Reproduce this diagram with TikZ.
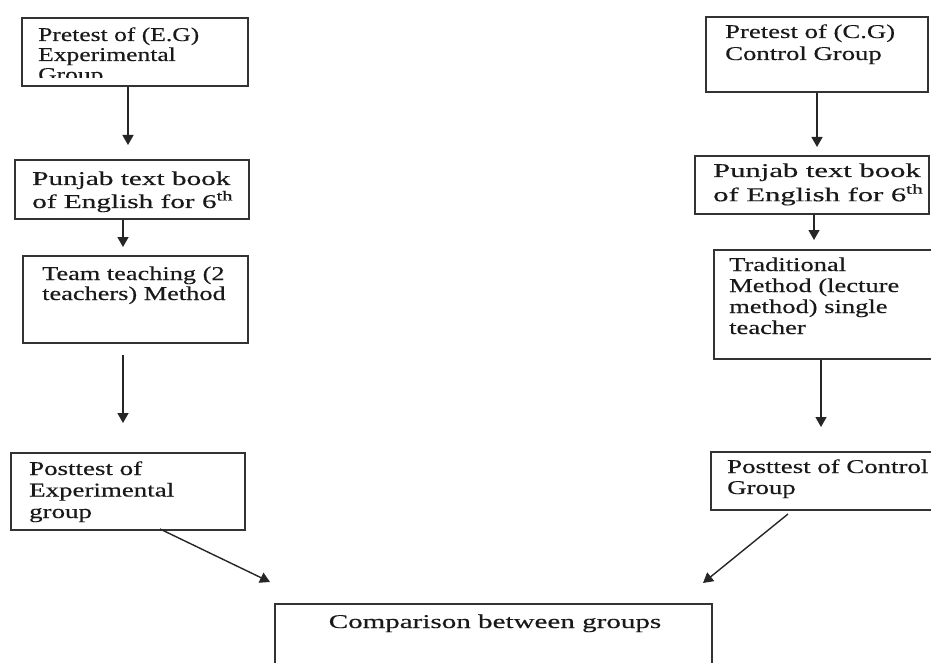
\documentclass[tikz,border=0pt]{standalone}
\usepackage{fontspec}
\usepackage{graphicx}
\usetikzlibrary{arrows.meta,calc}
\newfontfamily\tnr[FakeBold=0.3]{Liberation Serif}
\newcommand\tb[3]{\fontsize{19.5}{#2}\selectfont\scalebox{#1}[1]{\begin{tabular}[t]{@{}l@{}}#3\end{tabular}}}
\begin{document}
\begin{tikzpicture}[x=1pt,y=-1pt,
  box/.style={draw=black!80, line width=1.8pt, rectangle, inner sep=0pt, anchor=north west},
  txt/.style={anchor=base west, inner sep=0pt, font=\tnr, text=black!90},
  arr/.style={draw=black!85, line width=1.4pt, -{Triangle[length=10pt,width=11pt]}}]
\useasboundingbox (0,0) rectangle (931,663);
\clip (0,0) rectangle (931,663);
% left column boxes
\node[box, minimum width=226pt, minimum height=68pt] (e1) at (21,17) {};
\node[box, minimum width=234pt, minimum height=59pt] (e2) at (14,159) {};
\node[box, minimum width=225pt, minimum height=87pt] (e3) at (22,255) {};
\node[box, minimum width=234pt, minimum height=77pt] (e4) at (10,452) {};
% right column boxes
\node[box, minimum width=222pt, minimum height=75pt] (c1) at (705,16) {};
\node[box, minimum width=234pt, minimum height=58pt] (c2) at (694,155) {};
\node[box, minimum width=240pt, minimum height=109pt] (c3) at (713,249) {};
\node[box, minimum width=240pt, minimum height=58pt] (c4) at (710,451) {};
% comparison
\node[box, minimum width=437pt, minimum height=90pt] (cmp) at (274,603) {};
% texts
\begin{scope}
\clip (21,17) rectangle (247,78);
\node[txt] (t1) at (38,41) {\tb{1.31}{20}{Pretest of (E.G)\\Experimental\\Group}};
\end{scope}
\node[txt] (t2) at (32,185) {\tb{1.5}{20}{Punjab text book\\of English for 6\textsuperscript{th}}};
\node[txt] (t3) at (42,280) {\tb{1.35}{20}{Team teaching (2\\teachers) Method}};
\node[txt] (t4) at (29,475) {\tb{1.38}{21.5}{Posttest of\\Experimental\\group}};
\node[txt] (u1) at (725,38) {\tb{1.37}{22}{Pretest of (C.G)\\Control Group}};
\node[txt] (u2) at (713,177) {\tb{1.57}{24}{Punjab text book\\of English for 6\textsuperscript{th}}};
\node[txt] (u3) at (729,271) {\tb{1.36}{21}{Traditional\\Method (lecture\\method) single\\teacher}};
\node[txt] (u4) at (727,473) {\tb{1.375}{21}{Posttest of Control\\Group}};
\node[txt, anchor=base] (tc) at (495,628) {\tb{1.49}{21}{Comparison between groups}};
% arrow coordinates
\coordinate (a1e) at (128,145);
\coordinate (a2e) at (123,247);
\coordinate (a3s) at (123,355);
\coordinate (a3e) at (123,423);
\coordinate (a4s) at (160,529);
\coordinate (a4e) at (270,582);
\coordinate (b1e) at (817,147);
\coordinate (b2e) at (814,240);
\coordinate (b3e) at (821,427);
\coordinate (b4s) at (788,514);
\coordinate (b4e) at (703,583);
% arrows
\draw[arr] (e1.south -| a1e) -- (a1e);
\draw[arr] (e2.south -| a2e) -- (a2e);
\draw[arr] (a3s) -- (a3e);
\draw[arr] (a4s) -- (a4e);
\draw[arr] (c1.south -| b1e) -- (b1e);
\draw[arr] (c2.south -| b2e) -- (b2e);
\draw[arr] (c3.south -| b3e) -- (b3e);
\draw[arr] (b4s) -- (b4e);
\end{tikzpicture}
\end{document}
